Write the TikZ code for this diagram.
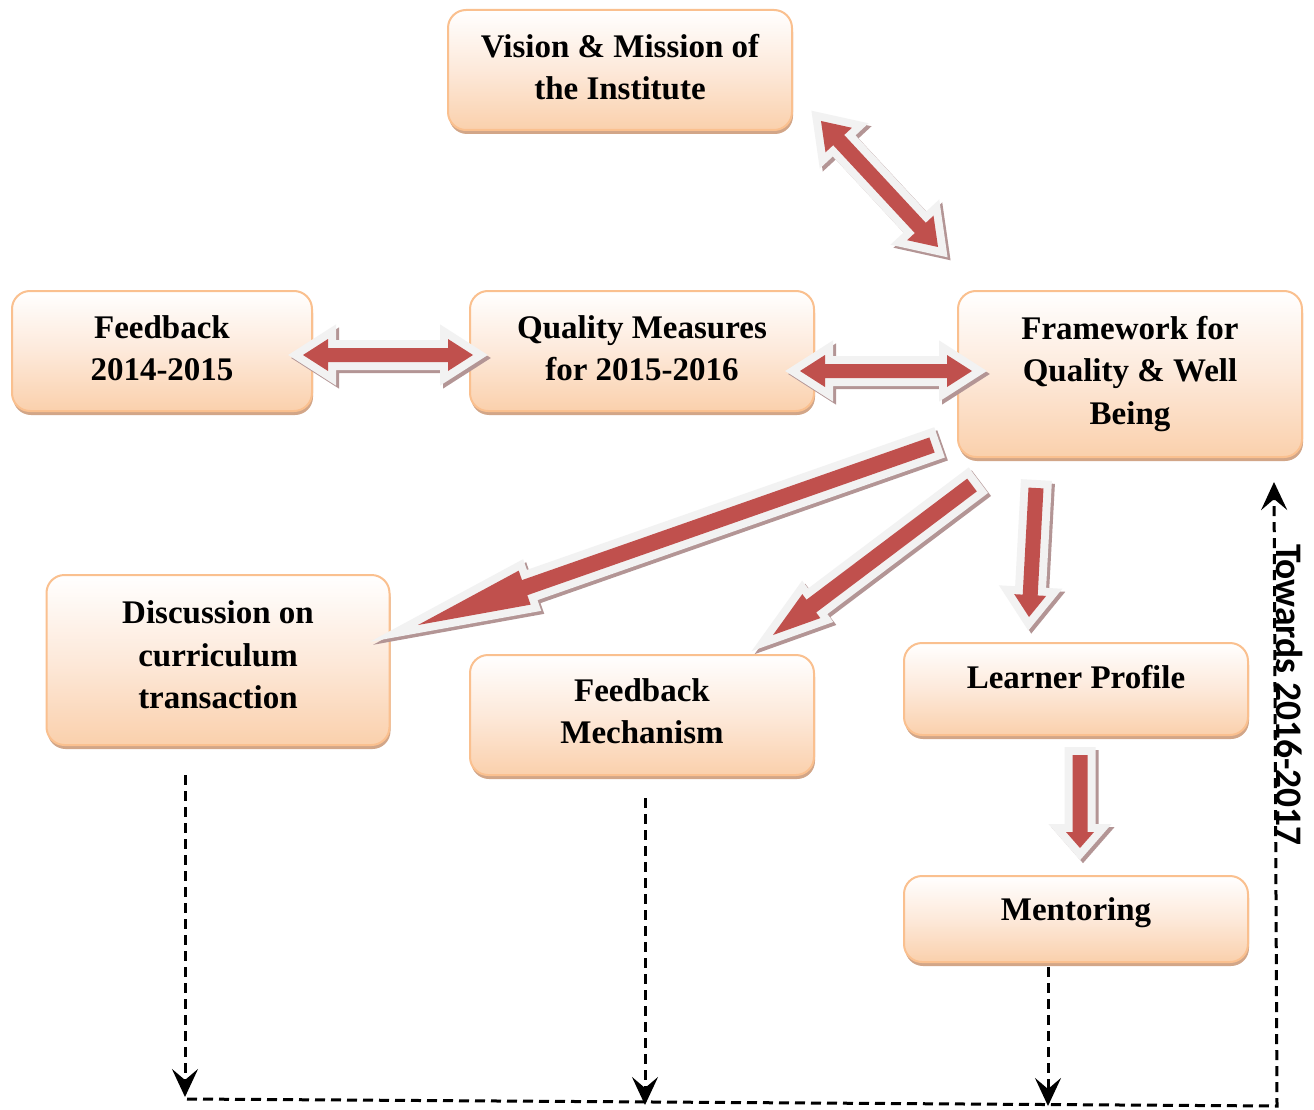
\documentclass[tikz,border=0pt]{standalone}
\usepackage{fontspec}
\setmainfont{Liberation Serif}
\newfontfamily\carl{Carlito}
\usetikzlibrary{calc,shadows,arrows.meta}
\definecolor{bxborder}{HTML}{FAC08F}
\definecolor{bxfill}{HTML}{FAD0AC}
\definecolor{bxmid}{HTML}{FDE9DA}
\definecolor{bxshadow}{HTML}{D2A688}
\definecolor{arrred}{HTML}{C0504D}
\definecolor{arrout}{HTML}{F2F2F2}
\definecolor{arrsh}{HTML}{B39595}
\newcommand\bxfont{\bfseries\fontsize{33}{42.5}\selectfont}
\tikzset{
  box/.style={rounded corners=18pt, draw=bxborder, line width=2pt,
    top color=white, bottom color=bxfill, middle color=bxmid,
    drop shadow={shadow xshift=1pt, shadow yshift=-4pt, fill=bxshadow, opacity=1},
    inner sep=0pt},
  boxtext/.style={align=center, font=\bxfont, inner sep=0pt},
  arrowshadow/.style={draw=arrsh, fill=arrsh, line width=16pt, line join=miter},
  arrowoutline/.style={draw=arrout, fill=arrout, line width=16pt, line join=miter},
  arrowbody/.style={fill=arrred},
  dashline/.style={draw, dash pattern=on 10pt off 6pt, line width=3pt},
  dashtip/.style={-{Stealth[length=28pt,width=26pt,inset=11pt]}}
}
% single block arrow: tail, tip, shaft half width, head half width, head length
\newcommand\sarrow[5]{%
  \path (#1) coordinate (ba-A) (#2) coordinate (ba-B);
  \path ($(ba-B)!#5!(ba-A)$) coordinate (ba-H);
  \path ($(ba-A)!#3!90:(ba-B)$) coordinate (q1)
        ($(ba-H)!#3!90:(ba-B)$) coordinate (q2)
        ($(ba-H)!#4!90:(ba-B)$) coordinate (q3)
        ($(ba-H)!#4!-90:(ba-B)$) coordinate (q5)
        ($(ba-H)!#3!-90:(ba-B)$) coordinate (q6)
        ($(ba-A)!#3!-90:(ba-B)$) coordinate (q7);
  \begin{scope}[transform canvas={shift={(3pt,-3pt)}}]
    \filldraw[arrowshadow] (q1) -- (q2) -- (q3) -- (ba-B) -- (q5) -- (q6) -- (q7) -- cycle;
  \end{scope}
  \filldraw[arrowoutline] (q1) -- (q2) -- (q3) -- (ba-B) -- (q5) -- (q6) -- (q7) -- cycle;
  \fill[arrowbody] (q1) -- (q2) -- (q3) -- (ba-B) -- (q5) -- (q6) -- (q7) -- cycle;
}
% double block arrow
\newcommand\darrow[5]{%
  \path (#1) coordinate (ba-A) (#2) coordinate (ba-B);
  \path ($(ba-B)!#5!(ba-A)$) coordinate (ba-H) ($(ba-A)!#5!(ba-B)$) coordinate (ba-G);
  \path ($(ba-G)!#4!90:(ba-B)$) coordinate (r1)
        ($(ba-G)!#3!90:(ba-B)$) coordinate (r2)
        ($(ba-H)!#3!90:(ba-B)$) coordinate (r3)
        ($(ba-H)!#4!90:(ba-B)$) coordinate (r4)
        ($(ba-H)!#4!-90:(ba-B)$) coordinate (r5)
        ($(ba-H)!#3!-90:(ba-B)$) coordinate (r6)
        ($(ba-G)!#3!-90:(ba-B)$) coordinate (r7)
        ($(ba-G)!#4!-90:(ba-B)$) coordinate (r8);
  \begin{scope}[transform canvas={shift={(3pt,-3pt)}}]
    \filldraw[arrowshadow] (ba-A) -- (r1) -- (r2) -- (r3) -- (r4) -- (ba-B) -- (r5) -- (r6) -- (r7) -- (r8) -- cycle;
  \end{scope}
  \filldraw[arrowoutline] (ba-A) -- (r1) -- (r2) -- (r3) -- (r4) -- (ba-B) -- (r5) -- (r6) -- (r7) -- (r8) -- cycle;
  \fill[arrowbody] (ba-A) -- (r1) -- (r2) -- (r3) -- (r4) -- (ba-B) -- (r5) -- (r6) -- (r7) -- (r8) -- cycle;
}
\begin{document}
\begin{tikzpicture}[x=1pt,y=-1pt]
\useasboundingbox (0,0) rectangle (1314,1110);
\fill[white] (0,0) rectangle (1314,1110);

% boxes
\node[box, minimum width=344pt, minimum height=120pt] (vis) at (620,70) {};
\node[box, minimum width=300pt, minimum height=120pt] (fb) at (162,351) {};
\node[box, minimum width=344pt, minimum height=120pt] (qm) at (642,351) {};
\node[box, minimum width=344pt, minimum height=166pt] (fw) at (1130,374) {};
\node[box, minimum width=343pt, minimum height=170pt] (disc) at (218,660) {};
\node[box, minimum width=344pt, minimum height=120pt] (fm) at (642,715) {};
\node[box, minimum width=344pt, minimum height=92pt] (lp) at (1076,689) {};
\node[box, minimum width=344pt, minimum height=86pt] (men) at (1076,919) {};

% box texts
\node[boxtext] (vis-t) at (620,67) {Vision \& Mission of\\the Institute};
\node[boxtext] (fb-t) at (162,348) {Feedback\\2014-2015};
\node[boxtext] (qm-t) at (642,348) {Quality Measures\\for 2015-2016};
\node[boxtext] (fw-t) at (1130,374) {Framework for\\Quality \& Well\\Being};
\node[boxtext] (disc-t) at (218,655) {Discussion on\\curriculum\\transaction};
\node[boxtext] (fm-t) at (642,711) {Feedback\\Mechanism};
\node[boxtext] (lp-t) at (1076,677) {Learner Profile};
\node[boxtext] (men-t) at (1076,913) {Mentoring};

% block arrow end points
\coordinate (visfw-a) at (821,121);
\coordinate (visfw-b) at (938,247);
\coordinate (fbqm-a) at (303,355);
\coordinate (fbqm-b) at (473,355);
\coordinate (qmfw-a) at (800,371);
\coordinate (qmfw-b) at (972,371);
\coordinate (fwdisc-a) at (932,445);
\coordinate (fwdisc-b) at (418,625);
\coordinate (fwfm-a) at (972,485);
\coordinate (fwfm-b) at (773,635);
\coordinate (fwlp-a) at (1036,488);
\coordinate (fwlp-b) at (1029,617);
\coordinate (lpmen-a) at (1080,755);
\coordinate (lpmen-b) at (1080,848);

\darrow{visfw-a}{visfw-b}{7.5pt}{18pt}{26pt}
\darrow{fbqm-a}{fbqm-b}{7pt}{16pt}{25pt}
\darrow{qmfw-a}{qmfw-b}{7pt}{16pt}{25pt}
\sarrow{fwdisc-a}{fwdisc-b}{8pt}{18pt}{113pt}
\sarrow{fwfm-a}{fwfm-b}{8pt}{15pt}{48pt}
\sarrow{fwlp-a}{fwlp-b}{7.5pt}{16pt}{22pt}
\sarrow{lpmen-a}{lpmen-b}{7.5pt}{14pt}{16pt}

% dashed feedback loop
\coordinate (d1) at (185,775);
\coordinate (d1e) at (185,1097);
\coordinate (d2) at (645,798);
\coordinate (d2e) at (645,1105);
\coordinate (d3) at (1048,967);
\coordinate (d3e) at (1048,1106);
\coordinate (bl) at (187,1099);
\coordinate (br) at (1277,1106);
\coordinate (tp) at (1274,482);
\draw[dashline, dashtip] (d1) -- (d1e);
\draw[dashline, dashtip] (d2) -- (d2e);
\draw[dashline, dashtip] (d3) -- (d3e);
\draw[dashline, dashtip] (bl) -- (br) -- (tp);

\node[rotate=-90, font=\carl\bfseries\fontsize{37.5}{37.5}\selectfont] (tw) at (1290,695) {Towards 2016-2017};
\end{tikzpicture}
\end{document}
